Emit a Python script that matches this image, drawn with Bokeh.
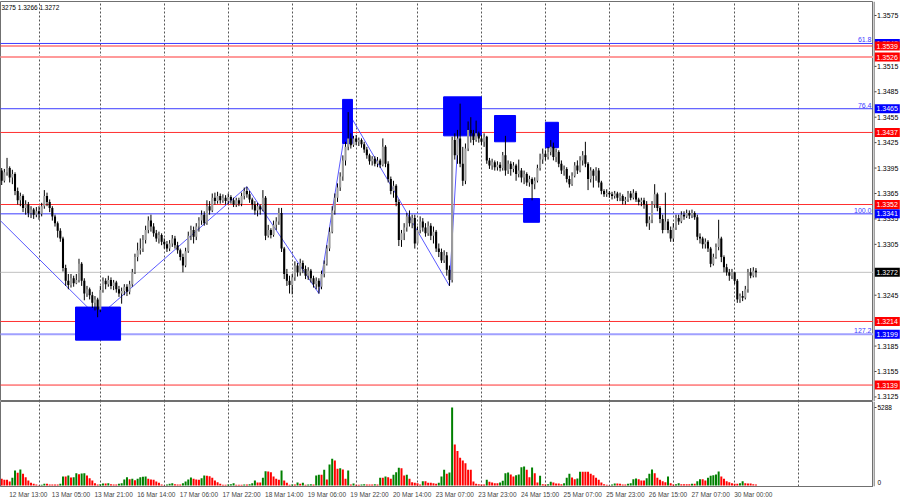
from bokeh.plotting import figure
from bokeh.models import Range1d, FixedTicker, Label, Grid, ColumnDataSource
from bokeh.core.properties import value
from bokeh.layouts import column, row
from bokeh.embed import file_html
from bokeh.resources import INLINE

# ---------------- data (H1 candles, bar index 0 = 12 Mar 13:00) ----------------
first_open = 1.3392
close = [
    # 12 Mar (10:00-23:00)
    1.3380, 1.3390, 1.3395, 1.3384, 1.3388, 1.3368, 1.3357, 1.3362, 1.3348, 1.3352, 1.3342, 1.3346, 1.3340, 1.3344,
    # 13 Mar
    1.3341, 1.3350, 1.3362, 1.3355, 1.3348, 1.3338, 1.3330, 1.3321, 1.3312, 1.3277, 1.3262, 1.3257, 1.3265, 1.3259,
    1.3263, 1.3282, 1.3262, 1.3247, 1.3252, 1.3245, 1.3236, 1.3240, 1.3228,
    # 16 Mar
    1.3251, 1.3262, 1.3258, 1.3263, 1.3256, 1.3260, 1.3252, 1.3247, 1.3250, 1.3255, 1.3249, 1.3258, 1.3272, 1.3290,
    1.3298, 1.3300, 1.3310, 1.3322, 1.3333, 1.3326, 1.3318, 1.3312, 1.3316, 1.3308,
    # 17 Mar
    1.3305, 1.3300, 1.3306, 1.3312, 1.3304, 1.3298, 1.3290, 1.3280, 1.3297, 1.3315, 1.3322, 1.3314, 1.3326, 1.3333,
    1.3340, 1.3330, 1.3350, 1.3345, 1.3360, 1.3356, 1.3362, 1.3357, 1.3360, 1.3356,
    # 18 Mar
    1.3361, 1.3357, 1.3352, 1.3357, 1.3353, 1.3362, 1.3368, 1.3364, 1.3358, 1.3352, 1.3345, 1.3350, 1.3346, 1.3360,
    1.3315, 1.3322, 1.3316, 1.3328, 1.3332, 1.3342, 1.3300, 1.3270, 1.3262, 1.3257,
    # 19 Mar
    1.3266, 1.3280, 1.3272, 1.3283, 1.3276, 1.3268, 1.3274, 1.3265, 1.3258, 1.3262, 1.3255, 1.3270, 1.3282, 1.3300,
    1.3320, 1.3345, 1.3360, 1.3372, 1.3385, 1.3404, 1.3420, 1.3430, 1.3422, 1.3430,
    # 20 Mar
    1.3426, 1.3428, 1.3423, 1.3417, 1.3410, 1.3403, 1.3406, 1.3400, 1.3404, 1.3399, 1.3420, 1.3400, 1.3382, 1.3368,
    1.3374, 1.3355, 1.3310, 1.3318, 1.3325, 1.3338, 1.3330, 1.3336, 1.3306,
    # 23 Mar
    1.3322, 1.3332, 1.3325, 1.3318, 1.3327, 1.3315, 1.3320, 1.3300, 1.3296, 1.3286, 1.3292, 1.3275, 1.3263, 1.3428,
    1.3410, 1.3430, 1.3400, 1.3380, 1.3418, 1.3440, 1.3436, 1.3428, 1.3436, 1.3430,
    # 24 Mar
    1.3426, 1.3432, 1.3404, 1.3398, 1.3402, 1.3396, 1.3399, 1.3395, 1.3410, 1.3392, 1.3400, 1.3394, 1.3398, 1.3388,
    1.3392, 1.3384, 1.3388, 1.3378, 1.3382, 1.3376, 1.3380, 1.3395, 1.3405, 1.3412,
    # 25 Mar
    1.3408, 1.3414, 1.3420, 1.3408, 1.3414, 1.3400, 1.3392, 1.3394, 1.3382, 1.3376, 1.3386, 1.3398, 1.3392, 1.3404,
    1.3410, 1.3400, 1.3382, 1.3392, 1.3386, 1.3392, 1.3378, 1.3368, 1.3364, 1.3366,
    # 26 Mar
    1.3364, 1.3362, 1.3365, 1.3360, 1.3362, 1.3356, 1.3358, 1.3365, 1.3360, 1.3366, 1.3358, 1.3355, 1.3357, 1.3352,
    1.3330, 1.3334, 1.3352, 1.3364, 1.3348, 1.3335, 1.3322, 1.3332, 1.3322, 1.3312,
    # 27 Mar
    1.3325, 1.3336, 1.3332, 1.3340, 1.3338, 1.3342, 1.3339, 1.3342, 1.3337, 1.3314, 1.3312, 1.3305, 1.3308, 1.3300,
    1.3282, 1.3290, 1.3302, 1.3312, 1.3290, 1.3278, 1.3272, 1.3268, 1.3272,
    # 30 Mar
    1.3262, 1.3240, 1.3244, 1.3242, 1.3252, 1.3272, 1.3268, 1.3274, 1.3272,
]
high = [
    1.3395, 1.3394, 1.3407, 1.3397, 1.3393, 1.3390, 1.3372, 1.3366, 1.3364, 1.3357, 1.3355, 1.3350, 1.3348, 1.3349,
    1.3350, 1.3354, 1.3369, 1.3366, 1.3358, 1.3350, 1.3340, 1.3332, 1.3324, 1.3314, 1.3281, 1.3270, 1.3270, 1.3268,
    1.3270, 1.3288, 1.3284, 1.3265, 1.3256, 1.3254, 1.3249, 1.3244, 1.3242,
    1.3256, 1.3266, 1.3265, 1.3268, 1.3266, 1.3263, 1.3262, 1.3256, 1.3254, 1.3258, 1.3258, 1.3262, 1.3276, 1.3294,
    1.3307, 1.3312, 1.3316, 1.3327, 1.3338, 1.3340, 1.3330, 1.3322, 1.3320, 1.3318,
    1.3312, 1.3309, 1.3310, 1.3316, 1.3315, 1.3308, 1.3300, 1.3294, 1.3301, 1.3320, 1.3327, 1.3326, 1.3330, 1.3337,
    1.3345, 1.3344, 1.3357, 1.3356, 1.3365, 1.3366, 1.3367, 1.3365, 1.3364, 1.3363,
    1.3365, 1.3363, 1.3360, 1.3360, 1.3360, 1.3366, 1.3372, 1.3373, 1.3368, 1.3360, 1.3356, 1.3354, 1.3352, 1.3369,
    1.3362, 1.3328, 1.3324, 1.3333, 1.3337, 1.3348, 1.3348, 1.3302, 1.3276, 1.3268,
    1.3270, 1.3285, 1.3283, 1.3288, 1.3286, 1.3280, 1.3278, 1.3276, 1.3268, 1.3266, 1.3265, 1.3274, 1.3286, 1.3304,
    1.3325, 1.3350, 1.3365, 1.3377, 1.3390, 1.3410, 1.3426, 1.3461, 1.3436, 1.3433,
    1.3434, 1.3431, 1.3430, 1.3426, 1.3420, 1.3412, 1.3409, 1.3409, 1.3408, 1.3406, 1.3430, 1.3422, 1.3403, 1.3385,
    1.3380, 1.3376, 1.3358, 1.3322, 1.3330, 1.3342, 1.3345, 1.3340, 1.3340,
    1.3326, 1.3338, 1.3336, 1.3330, 1.3332, 1.3330, 1.3326, 1.3322, 1.3306, 1.3300, 1.3298, 1.3296, 1.3280, 1.3432,
    1.3436, 1.3440, 1.3471, 1.3420, 1.3424, 1.3450, 1.3455, 1.3440, 1.3451, 1.3438,
    1.3434, 1.3436, 1.3433, 1.3407, 1.3406, 1.3404, 1.3403, 1.3402, 1.3414, 1.3433, 1.3404, 1.3403, 1.3402, 1.3400,
    1.3405, 1.3395, 1.3392, 1.3390, 1.3386, 1.3384, 1.3384, 1.3399, 1.3412, 1.3418,
    1.3416, 1.3420, 1.3428, 1.3425, 1.3418, 1.3416, 1.3404, 1.3398, 1.3396, 1.3386, 1.3390, 1.3402, 1.3404, 1.3409,
    1.3415, 1.3426, 1.3402, 1.3396, 1.3394, 1.3396, 1.3395, 1.3380, 1.3370, 1.3370,
    1.3368, 1.3367, 1.3368, 1.3367, 1.3366, 1.3364, 1.3361, 1.3368, 1.3368, 1.3370, 1.3368, 1.3360, 1.3360, 1.3360,
    1.3356, 1.3338, 1.3356, 1.3376, 1.3366, 1.3350, 1.3340, 1.3366, 1.3335, 1.3326,
    1.3330, 1.3340, 1.3340, 1.3344, 1.3344, 1.3346, 1.3345, 1.3346, 1.3344, 1.3340, 1.3318, 1.3314, 1.3312, 1.3310,
    1.3302, 1.3294, 1.3306, 1.3334, 1.3314, 1.3292, 1.3282, 1.3276, 1.3276,
    1.3270, 1.3264, 1.3247, 1.3250, 1.3256, 1.3276, 1.3277, 1.3278, 1.3277,
]
low = [
    1.3375, 1.3378, 1.3386, 1.3378, 1.3376, 1.3363, 1.3352, 1.3350, 1.3343, 1.3340, 1.3337, 1.3336, 1.3335, 1.3337,
    1.3334, 1.3338, 1.3347, 1.3350, 1.3343, 1.3333, 1.3326, 1.3313, 1.3308, 1.3273, 1.3256, 1.3252, 1.3254, 1.3255,
    1.3258, 1.3260, 1.3256, 1.3239, 1.3243, 1.3240, 1.3230, 1.3227, 1.3219,
    1.3225, 1.3248, 1.3252, 1.3255, 1.3252, 1.3251, 1.3248, 1.3243, 1.3235, 1.3245, 1.3244, 1.3246, 1.3255, 1.3270,
    1.3285, 1.3293, 1.3296, 1.3306, 1.3318, 1.3320, 1.3314, 1.3308, 1.3306, 1.3304,
    1.3300, 1.3296, 1.3297, 1.3302, 1.3300, 1.3294, 1.3286, 1.3272, 1.3278, 1.3295, 1.3310, 1.3306, 1.3310, 1.3320,
    1.3328, 1.3327, 1.3328, 1.3340, 1.3343, 1.3352, 1.3353, 1.3353, 1.3354, 1.3352,
    1.3352, 1.3353, 1.3349, 1.3349, 1.3350, 1.3350, 1.3358, 1.3360, 1.3354, 1.3346, 1.3340, 1.3338, 1.3340, 1.3344,
    1.3310, 1.3313, 1.3312, 1.3314, 1.3322, 1.3328, 1.3296, 1.3264, 1.3256, 1.3247,
    1.3246, 1.3262, 1.3267, 1.3268, 1.3271, 1.3264, 1.3263, 1.3260, 1.3254, 1.3252, 1.3247, 1.3252, 1.3266, 1.3280,
    1.3297, 1.3318, 1.3340, 1.3355, 1.3368, 1.3380, 1.3398, 1.3416, 1.3418, 1.3420,
    1.3422, 1.3421, 1.3419, 1.3413, 1.3406, 1.3399, 1.3398, 1.3397, 1.3396, 1.3395, 1.3397, 1.3396, 1.3378, 1.3364,
    1.3360, 1.3350, 1.3303, 1.3302, 1.3310, 1.3320, 1.3326, 1.3324, 1.3300,
    1.3312, 1.3318, 1.3320, 1.3314, 1.3315, 1.3310, 1.3306, 1.3296, 1.3290, 1.3283, 1.3283, 1.3268, 1.3256, 1.3260,
    1.3405, 1.3400, 1.3396, 1.3374, 1.3376, 1.3415, 1.3425, 1.3422, 1.3426, 1.3425,
    1.3422, 1.3420, 1.3400, 1.3394, 1.3393, 1.3392, 1.3392, 1.3391, 1.3392, 1.3386, 1.3388, 1.3386, 1.3390, 1.3380,
    1.3384, 1.3378, 1.3376, 1.3374, 1.3373, 1.3357, 1.3370, 1.3378, 1.3392, 1.3400,
    1.3404, 1.3405, 1.3410, 1.3404, 1.3402, 1.3396, 1.3388, 1.3386, 1.3378, 1.3372, 1.3374, 1.3384, 1.3388, 1.3390,
    1.3398, 1.3396, 1.3369, 1.3378, 1.3372, 1.3380, 1.3372, 1.3364, 1.3361, 1.3361,
    1.3360, 1.3358, 1.3359, 1.3356, 1.3356, 1.3352, 1.3352, 1.3355, 1.3357, 1.3358, 1.3355, 1.3351, 1.3350, 1.3347,
    1.3326, 1.3322, 1.3330, 1.3348, 1.3344, 1.3330, 1.3318, 1.3322, 1.3318, 1.3308,
    1.3308, 1.3322, 1.3328, 1.3330, 1.3334, 1.3336, 1.3335, 1.3336, 1.3334, 1.3310, 1.3306, 1.3300, 1.3300, 1.3296,
    1.3278, 1.3280, 1.3288, 1.3298, 1.3284, 1.3272, 1.3268, 1.3262, 1.3264,
    1.3258, 1.3236, 1.3236, 1.3238, 1.3240, 1.3248, 1.3265, 1.3266, 1.3266,
]
volume = [
    455, 388, 388, 272, 524, 1020, 864, 1088, 796, 564, 340, 184, 116, 68, 20, 48, 116, 116, 68, 68,
    68, 68, 116, 612, 612, 680, 544, 564, 836, 768, 816, 836, 680, 496, 340, 156, 68, 88, 136, 136,
    156, 88, 68, 68, 116, 156, 408, 564, 428, 455, 360, 455, 564, 592, 612, 455, 408, 388, 272, 184,
    68, 20, 68, 116, 156, 88, 68, 68, 156, 272, 408, 544, 455, 408, 388, 496, 680, 660, 632, 524,
    340, 224, 116, 48, 48, 68, 88, 156, 48, 48, 48, 68, 68, 88, 156, 340, 204, 204, 524, 972,
    952, 904, 612, 455, 388, 1020, 340, 184, 48, 68, 68, 204, 116, 184, 48, 68, 88, 68, 680, 728,
    728, 1068, 408, 1428, 1816, 1700, 1136, 1176, 1088, 455, 1020, 68, 136, 48, 48, 68, 88, 68, 68, 68,
    88, 68, 524, 524, 612, 564, 455, 728, 904, 1204, 1176, 680, 728, 455, 224, 184, 156, 68, 292, 292,
    184, 184, 156, 116, 184,
    612, 1068, 796, 884, 5288, 2788, 2332, 1884, 1700, 1516, 1068, 1068, 272, 116, 88, 68, 68, 388, 252, 204,
    156, 156, 204, 320, 836, 884, 748, 612, 700, 748, 1244, 1292, 1068, 564, 1224, 836, 204, 660, 88, 68,
    88, 252, 204, 136, 136, 88, 156, 524, 796, 544, 428, 476, 932, 932, 932, 932, 796, 700, 524, 388,
    204, 88, 48, 20, 68, 136, 136, 116, 68, 68, 116, 156, 428, 476, 428, 340, 340, 496, 796, 1088,
    836, 524, 388, 292, 224, 612, 156, 68, 88, 156, 88, 88, 88, 88, 116, 116, 292, 428, 428, 340,
    524, 660, 700, 748, 952, 612, 455, 292, 224, 156, 116, 116, 156, 292, 156, 136, 136, 88, 68,
]
first_index = -3
volume_max = 5288

# time axis labels (every 16 bars) and day separators
label_index = [0, 16, 32, 48, 64, 80, 96, 112, 128, 144, 160, 176, 192, 208, 224, 240, 256, 272]
label_text = ["12 Mar 13:00", "13 Mar 05:00", "13 Mar 21:00", "16 Mar 14:00", "17 Mar 06:00",
              "17 Mar 22:00", "18 Mar 14:00", "19 Mar 06:00", "19 Mar 22:00", "20 Mar 14:00",
              "23 Mar 07:00", "23 Mar 23:00", "24 Mar 15:00", "25 Mar 07:00", "25 Mar 23:00",
              "26 Mar 15:00", "27 Mar 07:00", "30 Mar 00:00"]
day_index = [11, 34, 58, 82, 106, 130, 153, 177, 201, 225, 249, 272, 296]

price_ticks = [1.3575, 1.3515, 1.3485, 1.3455, 1.3425, 1.3395, 1.3365, 1.3335, 1.3305,
               1.3245, 1.3185, 1.3155, 1.3125]

# horizontal levels
red_levels = [1.3539, 1.3437, 1.3352, 1.3214, 1.3139]
pink_levels = [1.3526]
blue_levels = [1.3542, 1.3465, 1.3341]
light_blue_levels = [1.3199]
fibo_levels = [1.3542, 1.3465, 1.3341, 1.3199]
fibo_names = ["61.8", "76.4", "100.0", "127.2"]
current_price = 1.3272

# price tags drawn in the price scale (drawing order = list order)
tag_price = [1.3542, 1.3539, 1.3526, 1.3437, 1.3352, 1.3214, 1.3139, 1.3465, 1.3341, 1.3199, 1.3272]
tag_color = ["#0000ff", "#ff0000", "#ff0000", "#ff0000", "#ff0000", "#ff0000", "#ff0000",
             "#0000ff", "#0000ff", "#0000ff", "#000000"]

# zigzag vertices (bar index, price)
zz_index = [-8, 33, 89, 116, 127, 165, 169]
zz_price = [1.3347, 1.3219, 1.3373, 1.3247, 1.3461, 1.3256, 1.3471]

# rectangles (left index, right index, top price, bottom price)
box_left = [24.7, 124.9, 162.8, 181.9, 192.8, 201.0]
box_right = [41.6, 128.6, 177.0, 189.8, 198.8, 205.9]
box_top = [1.3231, 1.3476, 1.3479, 1.3457, 1.3359, 1.3449]
box_bottom = [1.3192, 1.3424, 1.3433, 1.3426, 1.3331, 1.3419]

# ---------------- derived ----------------
n = len(close)
xs = list(range(first_index, first_index + n))
opens = [first_open] + close[:-1]
hi = [max(h, o, c) for h, o, c in zip(high, opens, close)]
lo = [min(l, o, c) for l, o, c in zip(low, opens, close)]
top = [max(o, c) for o, c in zip(opens, close)]
bot = [min(o, c) for o, c in zip(opens, close)]
col = ["#9c9c9c" if c >= o else "#000000" for o, c in zip(opens, close)]

nv = len(volume)
vx = list(range(first_index, first_index + nv))
vcol = ["#008000" if i > 0 and volume[i] > volume[i - 1] else "#ff0000" for i in range(nv)]

FONT = "Liberation Sans"
FRAME_W = 873
SIDE_W = 27
X0, X1 = -3.45, 324.1
Y0, Y1 = 1.31196, 1.35915
V0, V1 = -68, 5695

def blank(fig):
    fig.grid.visible = False
    fig.outline_line_color = None
    fig.background_fill_color = "white"
    fig.border_fill_color = "white"

def levels(fig, ys, color, width):
    fig.segment(x0=[X0 - 5] * len(ys), x1=[X1 + 5] * len(ys), y0=ys, y1=ys,
                line_color=color, line_width=width)

# ---------------- main panel ----------------
p = figure(width=FRAME_W, height=401, x_range=Range1d(X0, X1), y_range=Range1d(Y0, Y1),
           output_backend="svg", toolbar_location=None, x_axis_location=None,
           y_axis_location=None, min_border_left=0, min_border_right=0,
           min_border_top=1, min_border_bottom=0)
blank(p)
p.outline_line_color = "#707070"
p.add_layout(Grid(dimension=0, ticker=FixedTicker(ticks=day_index), grid_line_color="#555555",
                  grid_line_dash="2 2", grid_line_width=1))

# level lines
levels(p, [current_price], "#c0c0c0", 1)
levels(p, pink_levels, "#ff9a9a", 2)
levels(p, light_blue_levels, "#a0a0ff", 2)
levels(p, blue_levels, "#3c3cff", 1)
levels(p, red_levels, "#ff3030", 1)

# zigzag
p.line(zz_index, zz_price, line_color="#5a5aff", line_width=1)

# rectangles
p.quad(left=box_left, right=box_right, top=box_top, bottom=box_bottom,
       fill_color="#0000ff", line_color="#0000ff", line_width=1)

# candles
src = ColumnDataSource(dict(x=xs, h=hi, l=lo, t=top, b=bot, c=col))
p.segment(x0="x", y0="l", x1="x", y1="h", source=src, line_color="#000000", line_width=1)
p.vbar(x="x", width=0.78, top="t", bottom="b", source=src, fill_color="c", line_color=None)

# fibo level names
p.text(x=[X1] * len(fibo_levels), y=fibo_levels, text=fibo_names, x_offset=-2, y_offset=-1,
       text_align="right", text_baseline="bottom", text_font=value(FONT),
       text_font_size="7px", text_color="#3c3cff")

# header text
p.add_layout(Label(x=X0, y=1.35845, x_offset=1, text="3275 1.3266 1.3272", text_align="left",
                   text_baseline="middle", text_font=FONT, text_font_size="6.5px", text_color="#000000"))

# ---------------- price scale (side panel) ----------------
ps = figure(width=SIDE_W, height=401, x_range=Range1d(0, SIDE_W), y_range=p.y_range,
            output_backend="svg", toolbar_location=None, x_axis_location=None,
            y_axis_location=None, min_border_left=0, min_border_right=0,
            min_border_top=1, min_border_bottom=0)
blank(ps)
ps.segment(x0=[0.5], x1=[0.5], y0=[Y0], y1=[Y1], line_color="#a0a0a0", line_width=2)
ps.segment(x0=[1] * len(price_ticks), x1=[3] * len(price_ticks), y0=price_ticks, y1=price_ticks,
           line_color="#404040", line_width=1)
ps.text(x=[3.5] * len(price_ticks), y=price_ticks, text=["%.4f" % t for t in price_ticks],
        text_align="left", text_baseline="middle", text_font=value(FONT), text_font_size="7px",
        text_color="#000000")
for pr, cl in zip(tag_price, tag_color):
    ps.rect(x=[13.8], y=[pr], width=25, height=9, height_units="screen",
            fill_color=cl, line_color=None)
    ps.text(x=[3], y=[pr], text=["%.4f" % pr], text_align="left", text_baseline="middle",
            text_font=value(FONT), text_font_size="7px", text_color="#ffffff")

# ---------------- volume panel ----------------
v = figure(width=FRAME_W, height=99, x_range=p.x_range, y_range=Range1d(V0, V1),
           output_backend="svg", toolbar_location=None, y_axis_location=None,
           min_border_left=0, min_border_right=0, min_border_top=0, min_border_bottom=14)
blank(v)
v.outline_line_color = "#707070"
v.add_layout(Grid(dimension=0, ticker=FixedTicker(ticks=day_index), grid_line_color="#555555",
                  grid_line_dash="2 2", grid_line_width=1))
v.vbar(x=vx, top=volume, bottom=0, width=0.75, fill_color=vcol, line_color=None)

vxax = v.xaxis[0]
centers = [i + 7 for i in label_index]
vxax.ticker = FixedTicker(ticks=centers)
vxax.major_label_overrides = {c: t for c, t in zip(centers, label_text)}
vxax.major_label_text_font = FONT
vxax.major_label_text_font_size = "6.5px"
vxax.major_tick_out = 0
vxax.major_tick_in = 0
vxax.minor_tick_out = 0
vxax.minor_tick_in = 0
vxax.major_label_standoff = 4
vxax.axis_line_color = "#707070"

vs = figure(width=SIDE_W, height=99, x_range=Range1d(0, SIDE_W), y_range=v.y_range,
            output_backend="svg", toolbar_location=None, x_axis_location=None,
            y_axis_location=None, min_border_left=0, min_border_right=0,
            min_border_top=0, min_border_bottom=14)
blank(vs)
vs.segment(x0=[0.5], x1=[0.5], y0=[V0], y1=[V1], line_color="#a0a0a0", line_width=2)
vs.segment(x0=[1], x1=[3], y0=[volume_max], y1=[volume_max], line_color="#404040", line_width=1)
vs.text(x=[4], y=[volume_max], text=[str(volume_max)], text_align="left", text_baseline="middle",
        text_font=value(FONT), text_font_size="6.5px", text_color="#000000")
vs.text(x=[4], y=[0], text=["0"], text_align="left", text_baseline="bottom",
        text_font=value(FONT), text_font_size="6.5px", text_color="#000000")

layout = column(row(p, ps, spacing=0), row(v, vs, spacing=0), spacing=0)
open("out.html", "w").write(file_html(layout, INLINE))
